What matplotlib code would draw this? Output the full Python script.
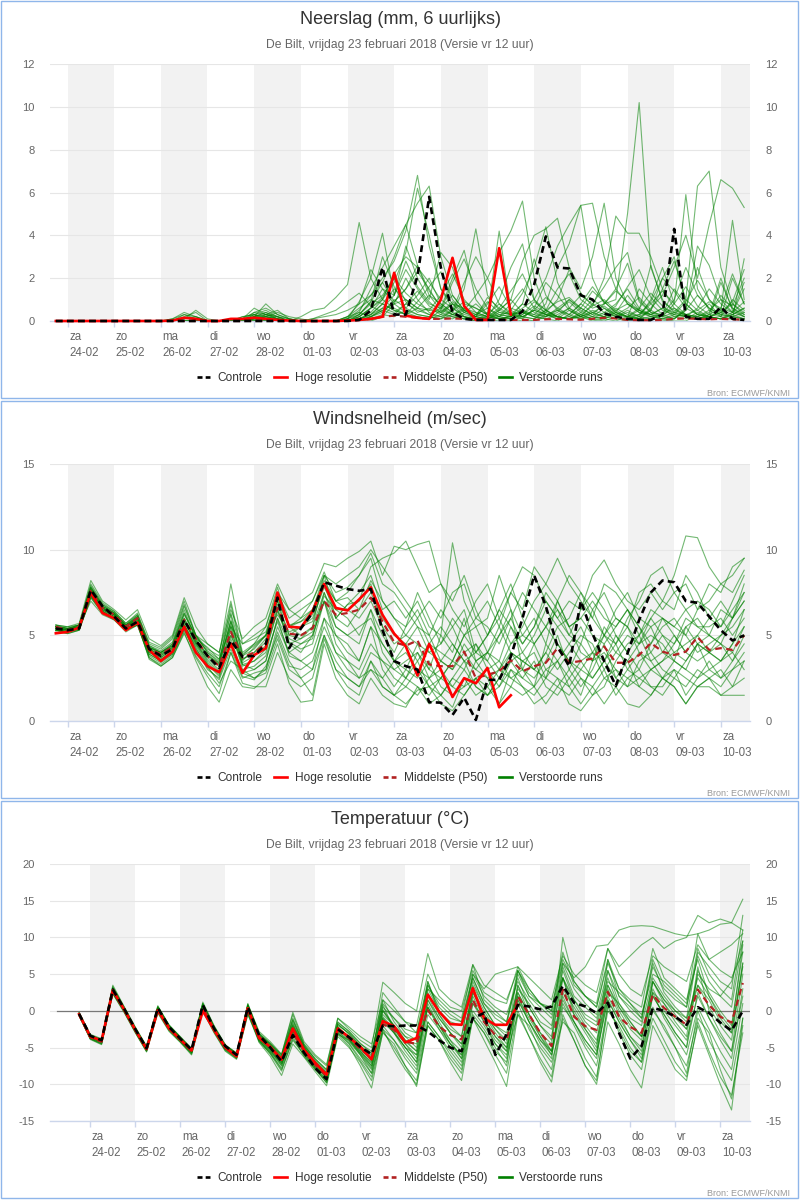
import matplotlib.pyplot as plt
import matplotlib.transforms as mtransforms
import numpy as np
from matplotlib.lines import Line2D
from matplotlib.patches import Rectangle

plt.rcParams["font.family"] = ["Liberation Sans", "DejaVu Sans"]
plt.rcParams["axes.unicode_minus"] = False

# 6-uurlijkse stappen vanaf vr 23-02 18 UTC, tijd in dagen t.o.v. za 24-02 00 UTC
stappen = np.arange(60)
tijd = (stappen * 6 - 6) / 24

dagen = ["za", "zo", "ma", "di", "wo", "do", "vr", "za", "zo", "ma", "di", "wo", "do", "vr", "za"]
datums = ["24-02", "25-02", "26-02", "27-02", "28-02", "01-03", "02-03", "03-03",
          "04-03", "05-03", "06-03", "07-03", "08-03", "09-03", "10-03"]

# ---------------- neerslag (mm per 6 uur) ----------------
neerslag_controle = [0, 0, 0, 0, 0, 0, 0, 0, 0, 0, 0, 0, 0, 0, 0, 0, 0, 0, 0, 0, 0, 0, 0, 0,
                     0, 0, 0.05, 0.5, 2.5, 0.3, 0.3, 2.1, 5.8, 2.5, 0.4, 0.1, 0.05, 0.05, 0.05, 0.05,
                     0.45, 1.7, 3.95, 2.5, 2.45, 1.2, 1.0, 0.35, 0.2, 0.1, 0.05, 0.05,
                     0.3, 4.3, 0.2, 0.1, 0.1, 0.65, 0.1, 0.05]
neerslag_hres = [0, 0, 0, 0, 0, 0, 0, 0, 0, 0, 0.02, 0.15, 0.1, 0, 0, 0.1, 0.1, 0.15, 0.1, 0.05,
                 0.02, 0, 0, 0, 0, 0.02, 0.05, 0.1, 0.2, 2.25, 0.25, 0.15, 0.1, 1.0, 2.95, 0.7,
                 0.05, 0.05, 3.4, 0.3]
neerslag_p50 = [0, 0, 0, 0, 0, 0, 0, 0, 0, 0, 0, 0, 0, 0, 0, 0, 0, 0.02, 0.02, 0, 0, 0, 0, 0,
                0, 0.02, 0.05, 0.1, 0.2, 0.25, 0.2, 0.15, 0.1, 0.1, 0.12, 0.1, 0.08, 0.05, 0.05, 0.05,
                0.05, 0.05, 0.08, 0.1, 0.08, 0.06, 0.1, 0.15, 0.12, 0.05, 0.04, 0.04,
                0.05, 0.1, 0.12, 0.1, 0.08, 0.1, 0.08, 0.06]
neerslag_runs = [
    [0, 0, 0, 0, 0, 0, 0, 0, 0, 0, 0, 0.1, 0.2, 0, 0, 0, 0.2, 0.3, 0.1, 0, 0, 0, 0.1, 0.2,
     0.3, 0.5, 0.8, 1.2, 2.0, 2.8, 4.2, 6.8, 3.5, 1.5, 0.8, 0.4, 0.2, 0.1, 0.3, 0.2,
     0.1, 0, 0.2, 0.6, 1.0, 0.5, 0.2, 0.1, 0, 0.2, 1.5, 0.8, 0.3, 0.1, 0.5, 1.2, 0.6, 0.3, 0.2, 0.4],
    [0, 0, 0, 0, 0, 0, 0, 0, 0, 0, 0.1, 0.3, 0.1, 0, 0, 0, 0.1, 0.2, 0.4, 0.2, 0.1, 0, 0, 0,
     0, 0.2, 0.6, 1.0, 0.8, 0.5, 0.3, 0.6, 1.2, 0.8, 0.4, 0.2, 0.1, 0.3, 0.8, 0.4,
     0.2, 0.1, 0.5, 1.5, 2.2, 1.0, 0.6, 0.8, 1.0, 5.0, 10.2, 2.5, 1.0, 0.4, 0.2, 0.1, 0.3, 0.6, 0.4, 0.2],
    [0, 0, 0, 0, 0, 0, 0, 0, 0, 0, 0, 0, 0, 0, 0, 0, 0, 0.1, 0, 0, 0, 0.2, 0.5, 0.6,
     1.1, 1.7, 4.6, 2.0, 1.0, 0.6, 0.3, 0.2, 0.1, 0.5, 1.8, 2.9, 1.5, 0.6, 0.2, 0.1,
     0, 0, 0.3, 0.1, 0.5, 0.2, 0, 0.1, 0.4, 1.2, 0.5, 0.2, 0.1, 0, 0, 0.3, 0.8, 0.2, 0.1, 0],
    [0, 0, 0, 0, 0, 0, 0, 0, 0, 0, 0, 0.2, 0.4, 0, 0, 0, 0.1, 0.6, 0.3, 0.1, 0, 0, 0, 0,
     0, 0.1, 0.4, 1.5, 2.5, 3.5, 4.5, 5.5, 6.3, 3.0, 1.2, 0.5, 0.3, 0.2, 1.0, 2.5,
     3.6, 1.0, 0.3, 0.2, 0.1, 0.4, 1.0, 0.6, 0.3, 0.2, 0.1, 0.5, 2.0, 3.0, 0.8, 0.3, 0.2, 0.1, 0.4, 1.5],
    [0, 0, 0, 0, 0, 0, 0, 0, 0, 0, 0, 0, 0, 0, 0, 0, 0, 0.2, 0.8, 0.3, 0.1, 0, 0, 0,
     0, 0, 0.2, 0.6, 1.5, 0.8, 2.0, 1.0, 0.4, 0.2, 0.5, 1.8, 3.0, 2.0, 3.2, 4.2,
     5.6, 2.0, 0.5, 0.2, 0.1, 0.3, 0.1, 0, 0.2, 0.5, 0.2, 0.1, 0, 0.1, 0.6, 2.5, 1.0, 0.4, 0.2, 0.1],
    [0, 0, 0, 0, 0, 0, 0, 0, 0, 0, 0, 0, 0, 0, 0, 0, 0, 0.1, 0.2, 0, 0, 0, 0, 0,
     0, 0, 0.1, 0.3, 0.8, 1.5, 1.0, 0.6, 0.3, 0.2, 0.1, 0.4, 0.8, 0.3, 0.1, 0.2,
     0.6, 1.0, 2.0, 3.5, 4.5, 5.4, 5.5, 3.0, 1.5, 0.8, 0.5, 0.3, 0.2, 0.4, 1.0, 0.5, 0.2, 0.1, 0.3, 0.6],
    [0, 0, 0, 0, 0, 0, 0, 0, 0, 0, 0, 0, 0, 0, 0, 0, 0, 0, 0.2, 0.1, 0, 0, 0, 0,
     0, 0, 0, 0.2, 0.4, 0.9, 1.5, 2.3, 1.5, 0.6, 0.3, 0.2, 0.1, 0.2, 0.1, 0,
     0.2, 0.5, 0.3, 0.2, 0.1, 0.3, 0.7, 1.0, 0.5, 0.2, 0.1, 0.6, 1.2, 2.5, 4.0, 2.0, 4.5, 6.6, 6.2, 5.3],
    [0, 0, 0, 0, 0, 0, 0, 0, 0, 0, 0, 0, 0, 0, 0, 0, 0, 0.3, 0.5, 0.2, 0, 0, 0, 0,
     0, 0, 0.3, 0.8, 1.2, 2.0, 0.9, 0.4, 0.6, 0.3, 0.2, 0.1, 0, 0.2, 0.5, 1.0,
     0.4, 0.2, 0.1, 0, 0.3, 0.8, 0.4, 0.2, 0.1, 0, 0.2, 0.5, 1.5, 2.8, 1.0, 6.3, 7.0, 2.5, 0.8, 0.4],
    [0, 0, 0, 0, 0, 0, 0, 0, 0, 0, 0, 0, 0, 0, 0, 0, 0, 0, 0.1, 0, 0, 0, 0, 0,
     0, 0, 0.1, 0.2, 0.6, 0.4, 0.8, 0.5, 0.3, 0.6, 1.2, 0.5, 0.2, 0.1, 0, 0.3,
     0.8, 0.4, 0.2, 0.5, 0.3, 0.1, 0.2, 0.6, 0.2, 0.4, 0.2, 1.0, 2.5, 0.8, 5.9, 1.5, 0.5, 0.2, 2.0, 0.8],
    [0, 0, 0, 0, 0, 0, 0, 0, 0, 0, 0, 0, 0, 0, 0, 0, 0.1, 0.4, 0.3, 0.1, 0, 0, 0, 0,
     0, 0.1, 0.3, 0.9, 3.0, 1.6, 0.6, 1.2, 2.0, 0.8, 0.4, 1.5, 4.3, 1.2, 0.5, 0.3,
     0.2, 0.1, 0.4, 1.0, 2.4, 1.3, 0.7, 2.0, 4.9, 4.1, 4.1, 3.0, 1.5, 0.6, 0.3, 0.2, 0.1, 1.8, 0.6, 0.2],
    [0, 0, 0, 0, 0, 0, 0, 0, 0, 0, 0, 0, 0, 0, 0, 0, 0, 0.1, 0.2, 0.1, 0, 0, 0, 0,
     0, 0, 0, 0.1, 0.3, 0.2, 0.5, 0.3, 0.2, 0.1, 0.3, 0.6, 0.4, 0.2, 0.1, 0.1,
     0.3, 0.7, 0.4, 0.2, 0.1, 0.2, 0.4, 0.2, 0.6, 0.3, 0.1, 0.2, 0.3, 0.6, 0.2, 0.1, 0.2, 0.4, 0.8, 0.3],
    [0, 0, 0, 0, 0, 0, 0, 0, 0, 0, 0, 0, 0, 0, 0, 0, 0, 0.2, 0.1, 0, 0, 0, 0, 0,
     0, 0, 0, 0, 0.2, 0.8, 0.4, 0.2, 0.1, 0.3, 0.8, 0.2, 0, 0.1, 0.5, 1.0,
     2.8, 4.0, 4.3, 4.8, 2.5, 1.5, 3.0, 5.5, 2.0, 0.8, 0.4, 0.2, 0.1, 0.3, 0.2, 0.1, 0.3, 2.0, 0.5, 0.2],
    [0, 0, 0, 0, 0, 0, 0, 0, 0, 0, 0, 0.1, 0.5, 0.1, 0, 0, 0, 0.4, 0.6, 0.3, 0.1, 0, 0, 0,
     0, 0.2, 0.8, 2.4, 1.5, 1.2, 3.5, 2.0, 1.0, 3.2, 2.5, 0.8, 0.6, 0.3, 4.2, 0.5,
     0.2, 0.5, 0.3, 0.1, 0.2, 0.6, 1.4, 0.9, 0.4, 0.2, 0.3, 0.8, 1.4, 0.8, 0.3, 0.1, 0.2, 0.1, 0.1, 2.9],
    [0, 0, 0, 0, 0, 0, 0, 0, 0, 0, 0, 0, 0, 0, 0, 0, 0, 0, 0.3, 0.2, 0, 0, 0, 0,
     0, 0, 0.2, 0.6, 1.0, 2.2, 3.0, 2.5, 1.8, 1.0, 0.6, 0.3, 0.2, 0.8, 1.6, 0.6,
     0.4, 0.3, 0.8, 2.5, 3.6, 5.4, 2.0, 0.8, 1.5, 2.7, 0.9, 0.4, 0.3, 1.0, 2.5, 1.2, 0.6, 0.3, 0.2, 0.1],
    [0, 0, 0, 0, 0, 0, 0, 0, 0, 0, 0, 0, 0, 0, 0, 0, 0, 0.1, 0.2, 0.1, 0, 0, 0, 0,
     0, 0.1, 0.9, 2.0, 4.1, 1.2, 2.4, 1.5, 0.8, 0.6, 2.0, 3.3, 1.0, 0.3, 0.1, 0.2,
     0.5, 0.2, 0.1, 0.3, 0.6, 0.2, 0.1, 0.4, 0.8, 1.5, 0.6, 0.3, 0.1, 0.2, 0.1, 0.4, 0.2, 0.1, 0.3, 0.1],
    [0, 0, 0, 0, 0, 0, 0, 0, 0, 0, 0, 0, 0, 0, 0, 0, 0, 0.3, 0.2, 0.4, 0.2, 0.1, 0, 0,
     0, 0, 0.3, 0.9, 1.8, 3.0, 4.5, 2.6, 1.2, 0.5, 0.3, 0.1, 0, 0.1, 0.4, 0.3,
     0.1, 0.6, 1.8, 1.2, 0.5, 0.2, 0.8, 1.6, 2.5, 3.2, 1.0, 0.4, 0.2, 0.1, 0.5, 3.5, 2.6, 1.0, 0.4, 1.8],
    [0, 0, 0, 0, 0, 0, 0, 0, 0, 0, 0, 0, 0, 0, 0, 0, 0, 0, 0, 0, 0, 0, 0, 0,
     0, 0, 0.1, 0.4, 1.0, 1.8, 3.2, 6.2, 4.0, 1.5, 0.6, 0.2, 0.1, 0, 0.2, 0.5,
     1.3, 2.5, 4.4, 1.8, 0.6, 0.3, 0.1, 0.2, 0.4, 0.2, 0.1, 0.1, 0.3, 1.5, 0.8, 0.3, 0.2, 0.5, 4.7, 1.0],
    [0, 0, 0, 0, 0, 0, 0, 0, 0, 0, 0, 0, 0, 0, 0, 0, 0, 0.1, 0.3, 0.5, 0.1, 0, 0, 0,
     0, 0, 0, 0.2, 0.5, 0.8, 1.0, 0.6, 0.5, 0.4, 0.8, 0.6, 0.3, 0.9, 0.4, 0.3,
     0.4, 0.2, 0.5, 0.9, 1.1, 0.6, 0.3, 0.8, 1.4, 0.9, 0.5, 0.3, 0.6, 0.4, 0.3, 0.2, 0.5, 1.0, 0.7, 2.0],
    [0, 0, 0, 0, 0, 0, 0, 0, 0, 0, 0, 0, 0, 0, 0, 0, 0, 0.2, 0.4, 0.1, 0, 0, 0, 0,
     0, 0.1, 0.5, 1.2, 1.8, 0.9, 1.5, 2.6, 1.4, 0.7, 0.3, 0.5, 1.2, 2.0, 0.8, 0.3,
     0.2, 0.5, 1.1, 0.6, 0.3, 0.8, 1.6, 0.9, 0.4, 0.2, 0.6, 1.3, 0.7, 0.3, 0.9, 1.9, 1.0, 0.5, 0.3, 0.6],
    [0, 0, 0, 0, 0, 0, 0, 0, 0, 0, 0, 0.3, 0.2, 0, 0, 0, 0, 0, 0, 0, 0, 0, 0, 0,
     0, 0, 0.2, 0.6, 1.1, 2.0, 1.3, 0.8, 0.5, 1.2, 2.2, 1.0, 0.4, 0.2, 0.6, 1.4,
     2.2, 1.0, 0.5, 0.2, 0.1, 0.2, 0.5, 0.3, 0.7, 1.6, 2.4, 1.1, 0.5, 0.3, 0.2, 0.6, 1.5, 0.8, 0.4, 0.9],
    [0, 0, 0, 0, 0, 0, 0, 0, 0, 0, 0, 0, 0, 0, 0, 0, 0, 0.2, 0.3, 0.2, 0, 0, 0.1, 0.3,
     0.5, 0.9, 1.3, 0.7, 0.4, 1.0, 0.6, 0.3, 0.2, 0.1, 0.5, 0.9, 0.6, 0.3, 0.2, 0.1,
     0.3, 0.9, 0.5, 0.2, 0.6, 1.2, 0.8, 0.4, 0.2, 0.1, 0.3, 0.9, 2.0, 1.4, 0.6, 0.3, 0.2, 0.4, 0.9, 2.4],
    [0, 0, 0, 0, 0, 0, 0, 0, 0, 0, 0, 0, 0, 0, 0, 0, 0, 0, 0, 0, 0, 0, 0, 0,
     0, 0, 0.1, 0.3, 0.6, 1.2, 2.8, 1.6, 0.9, 0.4, 0.2, 0.1, 0.3, 0.6, 0.3, 0.2,
     0.8, 2.9, 1.2, 0.5, 0.2, 0.1, 0.4, 0.7, 0.3, 0.6, 1.1, 0.5, 0.2, 0.8, 1.6, 0.7, 0.3, 0.2, 1.0, 0.5],
    [0, 0, 0, 0, 0, 0, 0, 0, 0, 0, 0, 0, 0, 0, 0, 0, 0, 0, 0, 0, 0, 0, 0, 0,
     0, 0.2, 0.4, 0.2, 0.5, 0.3, 0.8, 1.4, 0.7, 0.4, 0.9, 0.5, 0.2, 1.1, 0.6, 0.3,
     0.5, 0.3, 0.2, 0.4, 1.0, 0.6, 0.3, 0.2, 0.5, 0.8, 0.4, 0.3, 0.6, 0.2, 0.3, 0.5, 0.9, 0.6, 2.2, 0.8],
    [0, 0, 0, 0, 0, 0, 0, 0, 0, 0, 0.1, 0.4, 0.2, 0, 0, 0, 0.2, 0.3, 0, 0, 0, 0, 0, 0,
     0, 0, 0.1, 0.3, 0.8, 0.5, 0.3, 0.9, 1.6, 2.3, 1.0, 0.4, 0.2, 0.4, 0.2, 0.8,
     1.5, 0.6, 0.3, 0.5, 0.9, 0.4, 0.2, 0.1, 0.3, 0.2, 0.5, 2.6, 0.9, 0.5, 0.3, 0.2, 0.4, 1.2, 0.6, 0.3],
]

# ---------------- windsnelheid (m/s) ----------------
wind_controle = [5.4, 5.3, 5.4, 7.65, 6.7, 6.1, 5.4, 5.8, 4.2, 3.8, 4.2, 5.9, 4.7, 3.8, 3.1, 4.7,
                 3.75, 3.8, 4.5, 7.2, 4.25, 5.4, 6.3, 8.1, 7.9, 7.7, 7.6, 7.7, 5.3, 3.5, 3.2, 3.0,
                 1.1, 1.07, 0.35, 1.36, 0.06, 2.4, 2.4, 3.76, 6.0, 8.5, 6.7, 4.35, 3.2, 7.0, 5.1, 3.5,
                 2.05, 3.95, 5.9, 7.5, 8.2, 8.1, 7.0, 6.9, 6.1, 5.3, 4.7, 5.0]
wind_hres = [5.12, 5.2, 5.45, 7.5, 6.3, 6.0, 5.3, 5.75, 4.15, 3.5, 4.05, 5.5, 4.0, 3.2, 2.85, 4.5,
             2.8, 3.85, 4.25, 7.5, 5.5, 5.45, 6.4, 8.0, 6.6, 6.45, 7.1, 7.8, 6.2, 5.1, 4.35, 2.65,
             4.5, 3.0, 1.4, 2.5, 2.2, 3.1, 0.8, 1.5]
wind_p50 = [5.5, 5.3, 5.5, 7.6, 6.6, 6.2, 5.5, 6.0, 4.2, 3.9, 4.3, 5.9, 4.8, 3.8, 3.2, 5.2,
            3.7, 4.0, 4.5, 6.6, 5.1, 5.0, 5.4, 7.0, 6.2, 6.3, 6.5, 7.2, 5.8, 4.6, 4.4, 4.7,
            3.3, 3.2, 3.2, 4.05, 2.5, 2.7, 2.9, 3.55, 2.9, 3.2, 3.4, 4.25, 3.4, 3.5, 3.65, 4.35,
            3.4, 3.4, 3.85, 4.55, 4.05, 3.85, 4.05, 4.9, 4.15, 4.25, 4.15, 5.0]
wind_runs = [
    [5.3, 5.2, 5.4, 7.4, 6.5, 6.1, 5.5, 5.9, 4.1, 3.7, 4.2, 6.0, 4.6, 3.5, 2.9, 5.0,
     3.6, 4.0, 4.8, 7.0, 5.5, 5.8, 6.5, 8.5, 7.5, 7.8, 8.5, 9.5, 7.0, 6.0, 5.5, 7.5,
     6.0, 4.5, 5.5, 6.5, 4.0, 3.5, 5.0, 6.0, 4.5, 5.5, 7.0, 6.0, 5.0, 4.5, 6.5, 7.5,
     6.0, 5.5, 7.5, 8.0, 7.0, 6.5, 8.5, 7.5, 6.0, 5.5, 7.0, 8.5],
    [5.5, 5.4, 5.5, 7.0, 6.2, 5.9, 5.2, 5.6, 3.8, 3.4, 3.9, 5.4, 3.8, 2.8, 2.0, 4.0,
     2.5, 2.8, 3.0, 5.2, 3.5, 2.5, 1.5, 4.8, 3.0, 2.0, 1.5, 3.5, 2.0, 1.5, 2.5, 2.0,
     1.0, 1.5, 0.8, 2.5, 1.5, 2.0, 1.0, 3.0, 2.0, 1.5, 2.5, 3.5, 2.0, 1.0, 2.0, 3.0,
     1.5, 2.5, 3.0, 2.0, 1.5, 2.5, 2.0, 3.0, 2.5, 1.5, 2.0, 3.5],
    [5.6, 5.5, 5.7, 8.2, 7.0, 6.5, 5.9, 6.5, 4.8, 4.4, 5.0, 7.2, 5.5, 4.5, 4.0, 6.5,
     4.8, 5.5, 6.0, 8.0, 6.5, 7.0, 7.5, 9.2, 9.0, 9.5, 9.9, 10.5, 8.5, 10.2, 10.0, 10.3,
     10.5, 8.0, 7.0, 8.5, 6.5, 5.0, 6.0, 4.5, 5.5, 7.0, 8.0, 9.5, 8.0, 7.0, 6.0, 8.0,
     7.5, 6.5, 5.0, 6.0, 7.0, 8.5, 10.8, 10.7, 9.0, 8.0, 8.5, 9.5],
    [5.4, 5.3, 5.5, 7.6, 6.6, 6.2, 5.5, 6.0, 4.3, 4.0, 4.4, 6.2, 5.0, 4.0, 3.5, 6.2,
     3.2, 3.5, 4.0, 6.5, 4.5, 4.8, 5.5, 7.5, 6.0, 6.8, 7.0, 8.0, 5.5, 3.5, 2.5, 4.0,
     3.0, 5.0, 10.4, 7.0, 5.5, 4.0, 3.0, 4.5, 5.0, 6.0, 4.5, 7.0, 5.5, 4.0, 3.5, 5.0,
     6.0, 5.5, 4.5, 5.5, 4.0, 3.5, 5.5, 6.0, 5.0, 4.5, 6.0, 7.5],
    [5.3, 5.1, 5.3, 7.3, 6.4, 6.0, 5.4, 5.7, 3.6, 3.2, 3.7, 5.2, 3.5, 2.0, 1.1, 3.0,
     2.0, 1.9, 2.5, 4.5, 2.2, 1.1, 1.2, 4.5, 2.5, 1.5, 1.0, 2.5, 1.5, 1.0, 0.8, 2.0,
     1.5, 2.5, 2.0, 1.5, 2.5, 3.0, 2.0, 3.0, 2.5, 3.5, 2.0, 1.5, 2.5, 3.5, 4.0, 2.5,
     3.0, 2.0, 3.5, 4.0, 3.0, 2.5, 3.5, 4.5, 3.0, 3.5, 4.0, 3.0],
    [5.5, 5.4, 5.6, 7.9, 6.8, 6.3, 5.6, 6.2, 4.4, 4.1, 4.6, 6.7, 5.0, 4.2, 3.8, 8.0,
     4.5, 5.0, 5.5, 7.5, 6.5, 6.0, 7.0, 8.7, 7.0, 6.5, 7.0, 9.0, 9.5, 9.8, 10.5, 9.0,
     7.5, 8.0, 6.5, 5.5, 7.0, 8.0, 6.0, 7.5, 9.0, 8.5, 7.0, 6.0, 7.0, 6.5, 8.5, 9.4,
     8.0, 7.0, 6.5, 7.5, 6.5, 7.5, 8.0, 6.5, 7.0, 8.0, 7.5, 8.8],
    [5.4, 5.2, 5.4, 7.5, 6.5, 6.1, 5.4, 5.8, 4.0, 3.6, 4.1, 5.6, 4.3, 3.0, 2.5, 4.5,
     2.8, 3.0, 3.5, 6.0, 3.8, 3.5, 4.0, 6.0, 5.0, 4.5, 3.5, 5.5, 3.0, 2.0, 3.0, 2.5,
     3.5, 2.0, 1.5, 2.0, 3.5, 4.0, 5.0, 6.5, 3.0, 2.5, 3.5, 5.0, 3.0, 2.0, 3.0, 4.5,
     2.5, 3.5, 2.0, 1.5, 2.5, 3.0, 1.5, 2.5, 3.5, 2.5, 3.0, 4.0],
    [5.6, 5.4, 5.6, 7.8, 6.7, 6.3, 5.6, 6.1, 4.4, 4.0, 4.5, 6.5, 4.8, 4.3, 3.6, 5.5,
     4.5, 4.8, 5.2, 7.2, 5.5, 6.0, 6.5, 8.2, 7.0, 7.5, 8.5, 9.8, 8.0, 7.5, 6.5, 5.5,
     5.0, 6.5, 5.5, 4.0, 4.5, 3.0, 3.5, 5.5, 4.0, 5.0, 6.5, 5.5, 6.0, 7.5, 6.5, 5.0,
     4.5, 6.0, 7.0, 8.5, 9.0, 7.5, 6.5, 5.5, 5.0, 6.5, 6.0, 8.0],
    [5.2, 5.1, 5.3, 7.2, 6.3, 5.9, 5.3, 5.6, 3.7, 3.3, 3.8, 5.3, 4.0, 3.2, 2.2, 3.5,
     3.0, 2.5, 3.0, 5.5, 4.0, 4.5, 5.0, 7.0, 4.5, 3.5, 3.0, 4.5, 3.5, 3.0, 3.5, 4.0,
     2.5, 3.0, 2.0, 3.0, 2.0, 1.5, 2.5, 3.5, 4.0, 3.0, 2.5, 2.0, 3.0, 4.5, 3.5, 4.0,
     3.0, 2.5, 2.0, 3.0, 3.5, 4.0, 4.5, 5.0, 4.0, 3.5, 4.5, 6.5],
    [5.5, 5.3, 5.5, 7.7, 6.6, 6.2, 5.5, 6.1, 4.2, 3.9, 4.3, 5.8, 4.7, 3.8, 3.3, 5.8,
     3.5, 4.3, 5.0, 6.2, 5.2, 5.5, 6.0, 7.8, 6.5, 6.5, 6.0, 7.0, 5.5, 4.5, 5.0, 6.0,
     4.5, 4.0, 3.5, 5.0, 5.5, 6.0, 8.5, 6.5, 5.0, 4.5, 3.0, 3.5, 4.5, 5.5, 4.0, 3.5,
     5.0, 4.0, 3.0, 4.5, 5.5, 6.0, 5.0, 4.0, 4.5, 5.0, 5.5, 6.5],
    [5.3, 5.2, 5.4, 7.4, 6.4, 6.0, 5.3, 5.7, 3.9, 3.5, 4.0, 5.5, 4.4, 3.3, 2.7, 5.5,
     3.0, 3.2, 3.8, 5.8, 4.0, 3.5, 3.0, 5.0, 3.5, 2.5, 2.0, 3.0, 2.5, 3.5, 4.5, 5.5,
     4.0, 3.5, 3.0, 4.0, 3.0, 2.5, 1.0, 2.0, 3.5, 4.0, 2.5, 4.5, 3.5, 2.5, 1.5, 2.0,
     3.5, 4.5, 5.0, 3.5, 2.5, 2.0, 1.0, 2.0, 2.5, 3.0, 2.0, 2.5],
    [5.6, 5.5, 5.6, 7.8, 6.8, 6.4, 5.7, 6.3, 4.5, 4.2, 4.8, 6.8, 5.0, 4.0, 3.4, 6.8,
     3.8, 4.5, 5.5, 7.8, 5.5, 5.0, 5.5, 8.5, 6.0, 6.8, 7.5, 8.5, 6.5, 7.0, 6.0, 7.0,
     5.5, 5.0, 4.0, 6.0, 3.5, 4.0, 5.5, 7.5, 6.5, 9.0, 8.0, 7.0, 5.5, 6.0, 7.0, 6.0,
     5.5, 6.5, 5.5, 4.5, 6.0, 5.5, 6.5, 7.0, 6.5, 5.5, 6.5, 7.5],
    [5.4, 5.3, 5.5, 7.6, 6.6, 6.2, 5.5, 5.9, 4.2, 3.8, 4.3, 5.9, 4.5, 3.6, 3.0, 5.3,
     3.3, 3.5, 4.2, 6.4, 4.8, 4.5, 4.8, 7.5, 5.5, 5.0, 4.5, 6.5, 4.0, 3.0, 2.5, 3.5,
     2.0, 2.5, 3.5, 3.0, 4.5, 3.5, 2.5, 4.0, 3.0, 2.0, 4.5, 3.5, 2.5, 1.5, 3.5, 5.5,
     4.5, 3.0, 4.0, 3.5, 4.0, 5.0, 4.0, 3.5, 4.0, 4.5, 3.5, 5.0],
    [5.5, 5.4, 5.6, 8.0, 6.9, 6.4, 5.7, 6.2, 4.6, 4.3, 4.9, 7.0, 5.0, 4.5, 4.0, 7.0,
     4.0, 4.5, 5.0, 7.5, 6.0, 6.5, 7.0, 8.5, 8.0, 8.5, 9.0, 10.0, 9.0, 8.0, 7.0, 6.0,
     7.0, 6.0, 7.5, 8.0, 6.0, 5.5, 4.5, 6.0, 7.5, 6.5, 5.5, 7.0, 8.5, 7.5, 6.0, 5.0,
     6.5, 7.5, 6.0, 5.5, 6.0, 5.5, 5.0, 6.5, 8.0, 7.5, 9.0, 9.5],
    [5.3, 5.2, 5.3, 7.2, 6.3, 6.0, 5.3, 5.6, 3.7, 3.2, 3.7, 5.1, 3.7, 2.6, 1.6, 4.0,
     2.2, 2.0, 2.0, 4.0, 2.5, 2.0, 2.5, 5.0, 3.0, 2.5, 2.0, 3.5, 2.5, 1.5, 2.0, 1.5,
     2.5, 1.5, 2.5, 3.5, 2.0, 1.5, 2.5, 2.0, 1.5, 2.0, 1.0, 2.0, 1.5, 2.5, 2.0, 1.0,
     2.0, 3.0, 2.5, 2.0, 2.0, 3.0, 2.5, 2.0, 2.0, 1.5, 1.5, 1.5],
    [5.4, 5.3, 5.5, 7.7, 6.7, 6.3, 5.6, 6.0, 4.3, 4.0, 4.4, 6.3, 4.8, 3.8, 3.4, 5.8,
     3.8, 4.2, 5.0, 7.0, 5.0, 5.5, 5.8, 8.0, 6.0, 5.5, 6.5, 7.5, 6.0, 5.0, 4.5, 3.5,
     4.5, 5.5, 4.5, 3.5, 4.0, 5.0, 6.5, 5.5, 4.5, 5.5, 7.5, 6.5, 5.5, 6.0, 5.0, 4.5,
     5.5, 6.5, 5.5, 4.0, 5.0, 4.5, 6.0, 5.5, 5.5, 6.0, 5.0, 6.0],
    [5.5, 5.3, 5.5, 7.5, 6.5, 6.1, 5.4, 5.8, 4.0, 3.7, 4.2, 5.6, 4.5, 3.4, 2.8, 5.0,
     3.3, 3.0, 3.5, 6.0, 4.5, 4.0, 5.0, 7.0, 5.0, 4.0, 3.5, 5.5, 4.5, 3.5, 3.0, 4.5,
     3.0, 2.5, 3.5, 5.0, 6.0, 7.0, 5.5, 4.0, 3.5, 3.0, 4.0, 3.0, 4.0, 5.0, 4.5, 3.0,
     4.0, 5.0, 4.5, 5.0, 4.5, 3.5, 3.0, 4.5, 4.0, 3.5, 4.5, 5.5],
    [5.4, 5.2, 5.4, 7.3, 6.4, 6.0, 5.4, 5.8, 4.1, 3.6, 4.0, 5.7, 4.2, 3.3, 2.6, 4.8,
     2.8, 2.5, 2.8, 4.8, 3.0, 2.5, 3.0, 6.0, 4.0, 3.0, 2.5, 3.0, 2.0, 1.5, 1.0, 1.8,
     2.0, 1.0, 0.6, 1.5, 2.5, 2.0, 3.0, 2.5, 2.0, 1.0, 1.5, 2.5, 1.0, 0.6, 1.5, 2.5,
     2.0, 1.0, 0.8, 1.5, 2.5, 2.0, 1.0, 2.0, 2.5, 2.0, 3.0, 3.5],
    [5.4, 5.3, 5.5, 7.6, 6.6, 6.2, 5.5, 6.0, 4.2, 3.8, 4.3, 5.8, 4.6, 3.7, 3.2, 5.6,
     3.4, 3.8, 4.4, 6.6, 4.6, 4.2, 4.5, 7.0, 5.5, 5.0, 5.5, 6.0, 4.5, 3.5, 4.0, 3.0,
     2.5, 3.5, 4.5, 3.5, 3.0, 4.0, 3.5, 2.5, 3.0, 4.5, 5.5, 4.5, 3.5, 3.0, 4.0, 5.0,
     4.0, 3.5, 4.5, 6.0, 5.0, 4.0, 3.5, 4.5, 5.0, 4.5, 4.0, 5.5],
    [5.5, 5.4, 5.5, 7.7, 6.6, 6.2, 5.5, 6.0, 4.3, 3.9, 4.4, 6.0, 4.7, 3.9, 3.3, 5.9,
     3.6, 4.0, 4.6, 6.8, 5.0, 4.8, 5.2, 7.3, 6.5, 6.0, 5.0, 6.5, 5.0, 4.0, 5.5, 6.5,
     5.0, 3.5, 3.0, 4.5, 3.5, 2.5, 3.0, 4.0, 3.5, 3.0, 4.0, 5.5, 4.5, 3.5, 2.5, 3.5,
     4.5, 5.5, 4.0, 3.0, 3.5, 4.5, 5.5, 4.5, 4.0, 5.0, 6.0, 7.0],
    [5.3, 5.2, 5.4, 7.3, 6.4, 6.0, 5.4, 5.7, 3.9, 3.5, 3.9, 5.4, 4.1, 3.1, 2.4, 4.2,
     2.6, 2.4, 3.2, 5.0, 3.2, 3.0, 3.5, 5.5, 4.0, 3.5, 2.5, 4.0, 3.5, 2.5, 2.0, 3.0,
     2.0, 1.5, 2.5, 2.0, 2.5, 1.5, 2.0, 3.5, 2.5, 2.0, 3.0, 2.5, 2.0, 3.0, 2.5, 3.5,
     2.5, 2.0, 2.5, 3.0, 2.5, 3.5, 3.0, 2.5, 3.0, 2.5, 3.5, 4.5],
    [5.5, 5.3, 5.6, 7.8, 6.7, 6.3, 5.6, 6.1, 4.3, 4.0, 4.5, 6.3, 4.9, 4.1, 3.6, 6.3,
     3.9, 4.4, 5.0, 7.2, 5.6, 5.8, 6.2, 8.0, 7.0, 7.2, 6.5, 8.2, 7.0, 6.0, 5.0, 4.5,
     4.0, 4.5, 6.0, 5.0, 4.0, 5.0, 6.5, 8.0, 6.0, 4.5, 5.5, 6.5, 5.0, 6.5, 7.5, 6.5,
     5.0, 4.0, 5.0, 6.5, 6.0, 5.0, 4.0, 5.0, 6.0, 7.0, 6.0, 7.0],
]

# ---------------- temperatuur (graden C) ----------------
temp_controle = [-0.4, -3.4, -4.0, 2.9, 0.3, -2.5, -5.1, 0.4, -2.2, -3.8, -5.3, 0.8, -2.4, -4.8, -6.0, 0.5,
                 -3.3, -5.0, -6.9, -3.3, -5.7, -7.8, -9.3, -2.5, -3.6, -4.9, -5.9, -2.0, -2.1, -2.0, -2.0, -2.8,
                 -4.0, -5.0, -5.5, -1.0, -0.3, -6.0, -3.2, 0.8, 0.6, 0.2, 0.6, 3.4, 1.1, 0.6, -0.3, 1.1,
                 -3.0, -6.5, -4.8, 0.4, 0.0, -0.8, -1.9, 0.5, -0.3, -1.6, -2.7, 0.0]
temp_hres = [-0.45, -3.5, -4.05, 2.8, 0.2, -2.6, -5.2, 0.1, -2.4, -3.9, -5.4, 0.0, -2.6, -5.0, -6.2, 0.35,
             -3.7, -4.9, -6.6, -2.4, -5.3, -7.1, -8.7, -2.4, -3.6, -4.9, -6.6, -1.4, -2.1, -4.3, -3.7, 2.2,
             -0.1, -1.8, -1.9, 3.1, -1.0, -1.9, -1.9, 0.8]
temp_p50 = [-0.5, -3.6, -4.2, 2.7, 0.2, -2.6, -5.2, 0.2, -2.3, -3.9, -5.5, 0.5, -2.5, -5.0, -6.1, 0.3,
            -3.5, -5.0, -6.7, -3.0, -5.5, -7.4, -8.9, -2.6, -3.7, -5.2, -6.4, -1.8, -2.6, -4.2, -4.5, 0.1,
            -2.1, -3.3, -3.9, 1.5, -1.5, -3.3, -4.0, 2.0, -0.5, -3.0, -4.8, 2.9, -0.8, -2.1, -2.6, 2.6,
            -0.8, -2.2, -3.0, 2.2, 0.4, -0.8, -1.9, 2.9, 0.8, -0.8, -1.6, 3.8]
temp_runs = [
    [-0.3, -3.3, -3.9, 3.5, 0.6, -2.2, -4.8, 0.7, -2.0, -3.6, -5.2, 1.2, -2.0, -4.6, -5.8, 1.0,
     -3.0, -4.5, -6.0, -1.2, -4.8, -6.5, -8.0, -1.5, -2.8, -4.5, -5.5, 0.5, -1.0, -2.5, -3.0, 3.5,
     0.5, -1.0, -1.5, 4.5, 1.0, -1.0, -2.0, 5.0, 2.0, 1.0, 0.5, 7.0, 4.0, 2.0, 1.0, 8.5,
     5.0, 3.0, 2.0, 7.5, 6.0, 5.0, 4.0, 9.0, 7.0, 5.5, 4.5, 8.0],
    [-0.6, -3.8, -4.5, 2.4, -0.1, -2.9, -5.5, -0.1, -2.6, -4.2, -5.8, 0.2, -2.8, -5.3, -6.4, -0.2,
     -4.2, -5.8, -7.8, -3.5, -6.2, -8.0, -9.6, -3.0, -4.5, -6.8, -9.0, -2.5, -5.5, -8.0, -10.0, -2.0,
     -4.0, -6.5, -8.5, -1.0, -3.0, -6.0, -8.5, 0.0, -3.5, -6.5, -9.0, -0.5, -4.0, -7.5, -9.5, 1.0,
     -3.0, -6.0, -8.0, 0.5, -2.5, -5.0, -8.5, 0.0, -4.0, -7.0, -9.5, -1.0],
    [-0.4, -3.5, -4.1, 2.9, 0.4, -2.4, -5.0, 0.4, -2.1, -3.7, -5.3, 0.8, -2.3, -4.8, -5.9, 0.6,
     -3.3, -4.6, -6.3, -1.8, -4.9, -7.0, -8.5, -2.0, -3.0, -4.8, -6.0, -0.5, -2.0, -4.0, -4.5, 2.5,
     -0.5, -2.5, -3.5, 4.0, 0.5, -2.0, -3.0, 3.0, 1.0, -1.5, -2.5, 5.5, 1.5, -0.5, -1.5, 4.0,
     2.5, 1.0, -1.0, 6.0, 3.0, 1.5, 0.5, 8.5, 5.0, 3.0, 1.5, 11.0],
    [-0.5, -3.7, -4.3, 2.6, 0.1, -2.7, -5.3, 0.1, -2.4, -4.0, -5.6, 0.3, -2.6, -5.1, -6.2, 0.2,
     -3.8, -5.2, -7.0, -2.6, -5.6, -7.4, -9.2, -2.2, -3.9, -5.6, -7.0, 0.8, -2.5, -4.5, -6.5, 1.0,
     -2.0, -4.5, -6.0, 2.0, -1.0, -3.5, -5.0, 1.5, -1.5, -4.0, -5.5, 3.0, 0.5, -2.0, -4.0, 2.5,
     1.0, -1.0, -2.0, 4.5, 2.0, 0.0, -1.0, 3.5, 1.5, -1.5, -3.0, 6.0],
    [-0.2, -3.2, -3.8, 3.3, 0.5, -2.3, -4.9, 0.6, -1.9, -3.5, -5.1, 1.0, -2.1, -4.7, -5.7, 0.9,
     -2.8, -4.2, -5.9, -0.5, -4.5, -6.2, -7.5, -1.0, -2.2, -3.5, -4.5, 1.5, 0.0, -1.5, -2.0, 5.0,
     2.0, 0.5, 0.0, 5.5, 2.5, 1.5, 1.0, 6.0, 3.0, 1.0, -0.5, 4.5, 1.5, -1.0, -2.0, 3.5,
     0.5, -2.0, -3.5, 2.5, 1.0, -1.0, -2.5, 5.0, 3.0, 2.0, 4.0, 9.5],
    [-0.6, -3.9, -4.6, 2.3, -0.2, -3.0, -5.6, -0.3, -2.8, -4.3, -6.0, 0.0, -3.0, -5.5, -6.6, -0.5,
     -4.0, -5.9, -8.2, -3.8, -6.0, -7.8, -9.8, -3.2, -4.8, -7.5, -10.5, -2.8, -5.0, -7.5, -9.5, -1.5,
     -3.5, -6.0, -8.0, -0.5, -2.5, -5.0, -7.5, 2.0, -1.0, -3.5, -6.0, 1.0, -2.0, -5.0, -7.5, 0.5,
     -2.5, -5.5, -7.0, -1.0, -4.0, -7.0, -9.0, -2.0, -6.0, -10.0, -13.5, -1.0],
    [-0.4, -3.4, -4.0, 3.0, 0.3, -2.5, -5.1, 0.3, -2.2, -3.8, -5.4, 0.6, -2.4, -4.9, -6.0, 0.5,
     -3.5, -5.0, -6.5, -2.0, -5.2, -7.2, -8.8, -2.6, -3.5, -5.0, -6.8, 0.0, -2.2, -4.2, -5.5, 2.0,
     -1.0, -3.0, -4.5, 1.5, -1.5, -4.0, -5.5, 2.5, -0.5, -3.0, -4.5, 6.0, 2.0, 0.5, -1.0, 4.5,
     0.5, -1.5, -3.5, 2.0, -0.5, -3.0, -5.0, 5.5, 2.5, 0.0, -2.0, 8.0],
    [-0.5, -3.6, -4.2, 2.8, 0.2, -2.6, -5.2, 0.2, -2.3, -3.9, -5.5, 0.6, -2.5, -5.0, -6.1, 0.4,
     -3.6, -5.0, -6.8, -2.2, -5.0, -7.0, -8.5, -1.8, -3.2, -5.2, -6.5, 0.2, -2.0, -3.5, -4.0, 3.0,
     0.0, -1.5, -2.0, 4.5, 1.0, -0.5, -1.5, 5.5, 2.5, 1.0, 0.0, 6.5, 4.5, 6.0, 8.8, 9.0,
     11.0, 11.5, 11.6, 11.5, 11.0, 10.5, 10.2, 10.5, 11.0, 11.8, 12.0, 11.0],
    [-0.7, -3.8, -4.4, 2.5, 0.0, -2.8, -5.4, 0.0, -2.5, -4.1, -5.7, 0.2, -2.7, -5.2, -6.3, 0.0,
     -4.0, -5.6, -7.5, -3.0, -5.8, -7.7, -9.5, -2.8, -4.2, -6.0, -8.0, -1.5, -3.0, -5.5, -7.5, 0.5,
     -2.5, -5.0, -7.0, 1.0, -1.5, -4.5, -6.5, 3.5, -0.5, -3.5, -5.5, 1.5, -1.5, -4.5, -6.5, 3.0,
     -0.5, -3.5, -5.5, 4.0, 1.0, -1.5, -3.5, 6.0, 0.0, -3.0, -5.5, 5.0],
    [-0.3, -3.4, -4.0, 3.1, 0.4, -2.4, -5.0, 0.5, -2.0, -3.6, -5.2, 0.9, -2.2, -4.7, -5.8, 0.8,
     -3.1, -4.4, -6.0, -0.2, -4.2, -6.0, -7.3, -1.0, -2.5, -4.0, -5.0, 3.9, 2.5, 1.0, 0.0, 7.8,
     3.0, 1.5, 0.5, 6.3, 3.5, 2.5, 1.5, 5.5, 3.0, 1.0, 0.0, 8.0, 3.5, 2.0, 0.5, 7.0,
     2.0, 0.0, -1.5, 6.5, 2.5, 0.5, -1.0, 8.0, 6.0, 4.0, 3.0, 13.0],
    [-0.5, -3.5, -4.2, 2.7, 0.1, -2.7, -5.3, 0.3, -2.4, -4.0, -5.6, 0.4, -2.6, -5.1, -6.2, 0.1,
     -3.9, -5.5, -7.2, -2.8, -5.5, -7.6, -9.0, -2.5, -3.8, -5.5, -7.5, -1.0, -3.0, -5.0, -7.0, 1.5,
     -1.5, -4.0, -6.5, 2.5, -0.5, -3.0, -5.0, 2.0, -1.5, -4.5, -6.5, 4.5, -0.5, -2.5, -4.5, 2.0,
     -1.0, -3.5, -5.0, 3.0, 0.0, -2.0, -4.0, 2.0, -1.0, -4.0, -6.5, 3.0],
    [-0.6, -3.7, -4.3, 2.6, 0.0, -2.8, -5.4, 0.0, -2.5, -4.1, -5.7, 0.1, -2.7, -5.2, -6.4, -0.1,
     -4.1, -5.7, -8.0, -4.0, -6.0, -8.0, -9.8, -3.2, -4.0, -6.0, -8.5, -2.5, -4.0, -6.5, -8.5, -1.5,
     -3.5, -5.5, -7.5, 0.0, -2.0, -4.5, -6.0, -0.5, -2.0, -5.5, -8.0, 0.5, -1.5, -4.0, -6.0, 1.5,
     -1.5, -4.0, -6.5, 0.0, -2.0, -5.0, -7.5, -1.0, -3.0, -8.0, -12.0, -2.0],
    [-0.4, -3.5, -4.1, 2.9, 0.3, -2.5, -5.1, 0.3, -2.2, -3.8, -5.4, 0.7, -2.4, -4.9, -6.0, 0.7,
     -3.4, -4.8, -6.6, -1.6, -5.0, -6.9, -8.4, -2.2, -3.6, -5.4, -7.2, 0.0, -2.0, -4.0, -5.5, 3.0,
     1.5, 0.0, -1.0, 6.3, 1.5, 0.0, -1.5, 4.5, 0.5, -2.0, -4.0, 10.0, 4.0, 2.0, 0.5, 6.5,
     3.0, 1.0, -0.5, 5.0, 4.0, 2.5, 1.0, 10.5, 7.0, 8.0, 9.0, 10.5],
    [-0.5, -3.6, -4.2, 2.8, 0.2, -2.6, -5.2, 0.2, -2.3, -3.9, -5.5, 0.4, -2.5, -5.0, -6.1, 0.3,
     -3.7, -5.3, -7.2, -2.8, -5.4, -7.3, -9.0, -2.2, -3.8, -5.8, -7.5, -1.0, -2.8, -5.0, -6.0, 0.5,
     -2.0, -4.0, -5.5, 3.5, 0.5, -2.0, -3.5, 2.5, -0.5, -3.0, -5.5, 2.0, -1.5, -4.0, -6.0, 5.5,
     1.0, -1.5, -3.5, 4.0, 1.5, -0.5, -2.5, 3.5, 0.5, -2.0, -4.0, 6.5],
    [-0.3, -3.3, -3.9, 3.2, 0.5, -2.3, -4.9, 0.5, -2.0, -3.6, -5.2, 1.0, -2.2, -4.7, -5.9, 0.8,
     -3.2, -4.7, -6.4, -1.3, -4.7, -6.7, -8.2, -1.8, -3.1, -4.7, -6.2, 1.5, -1.5, -3.5, -5.0, 4.0,
     0.0, -2.0, -3.5, 5.0, 3.0, 5.0, 5.5, 6.0, 4.5, 3.0, 1.5, 7.5, 5.0, 3.5, 2.5, 8.5,
     6.0, 7.5, 9.0, 10.0, 8.5, 9.5, 10.0, 13.0, 12.0, 12.5, 12.0, 15.2],
    [-0.6, -3.8, -4.5, 2.4, -0.1, -2.9, -5.5, -0.2, -2.7, -4.2, -5.9, 0.0, -2.9, -5.4, -6.5, -0.4,
     -4.3, -6.2, -8.8, -4.5, -6.3, -8.3, -10.2, -3.5, -5.0, -7.0, -9.5, -3.0, -4.5, -7.5, -10.3, -2.0,
     -4.0, -7.0, -9.5, -1.0, -4.0, -7.0, -10.3, -0.5, -3.5, -7.0, -9.7, -1.0, -4.0, -7.5, -10.0, -1.5,
     -4.5, -8.0, -10.5, -2.0, -5.0, -8.0, -9.5, -1.5, -5.5, -9.0, -11.5, -3.0],
    [-0.4, -3.4, -4.0, 3.0, 0.3, -2.5, -5.1, 0.4, -2.1, -3.7, -5.3, 0.8, -2.3, -4.8, -5.9, 0.6,
     -3.4, -4.9, -6.8, -2.0, -5.1, -7.1, -8.7, -2.4, -3.6, -5.0, -6.5, 2.5, 0.5, -1.5, -3.0, 4.0,
     -0.5, -3.0, -5.0, 3.0, 0.0, -2.5, -4.5, 5.5, 2.0, 0.5, -1.0, 4.5, 0.0, -2.5, -5.0, 7.0,
     3.0, 1.5, 0.5, 8.5, 4.5, 3.0, 1.5, 7.0, 2.0, -0.5, -2.5, 9.0],
    [-0.5, -3.6, -4.2, 2.7, 0.1, -2.7, -5.3, 0.1, -2.4, -4.0, -5.6, 0.3, -2.6, -5.1, -6.2, 0.1,
     -3.8, -5.4, -7.4, -3.2, -5.7, -7.8, -9.4, -3.0, -4.4, -6.5, -8.5, -2.0, -4.0, -6.0, -8.0, -0.5,
     -2.5, -4.5, -6.5, -1.0, -3.0, -5.5, -7.0, 1.0, -2.5, -5.0, -7.0, -1.5, -3.0, -6.5, -9.0, 0.0,
     -2.0, -5.0, -7.0, 2.5, -1.0, -3.5, -6.0, 0.5, -2.5, -5.5, -8.0, 1.0],
    [-0.5, -3.5, -4.1, 2.8, 0.3, -2.5, -5.1, 0.3, -2.2, -3.8, -5.4, 0.6, -2.4, -4.9, -6.0, 0.5,
     -3.5, -5.0, -6.8, -2.4, -5.2, -7.2, -8.8, -2.5, -3.4, -5.2, -6.8, -0.8, -2.5, -4.5, -6.0, 1.5,
     -1.0, -3.0, -4.5, 2.5, -0.5, -2.5, -4.0, 3.5, 0.5, -2.0, -3.5, 4.5, 1.0, -1.5, -3.0, 3.5,
     0.0, -2.5, -4.0, 4.0, 1.5, 0.0, -1.5, 4.5, 2.0, -1.0, -3.0, 6.5],
    [-0.4, -3.5, -4.2, 2.7, 0.2, -2.6, -5.2, 0.2, -2.3, -3.9, -5.5, 0.5, -2.5, -5.0, -6.1, 0.3,
     -3.6, -5.1, -7.0, -2.6, -5.4, -7.4, -9.2, -2.8, -4.0, -5.8, -7.8, -1.2, -3.0, -5.0, -7.0, 0.5,
     -2.0, -4.5, -6.0, 1.0, -1.0, -3.5, -5.5, 1.5, -1.5, -4.0, -6.0, 2.5, -0.5, -3.0, -5.5, 1.5,
     -1.5, -4.0, -6.0, 2.0, -0.5, -3.0, -5.0, 2.5, -1.0, -3.5, -5.5, 2.0],
    [-0.3, -3.4, -4.0, 3.0, 0.4, -2.4, -5.0, 0.4, -2.1, -3.7, -5.3, 0.9, -2.3, -4.8, -5.9, 0.7,
     -3.2, -4.5, -6.2, -1.0, -4.6, -6.6, -8.0, -1.6, -2.8, -4.4, -5.8, 1.0, -1.0, -3.0, -4.0, 3.5,
     1.0, -0.5, -1.5, 5.0, 2.0, 0.5, -0.5, 4.0, 1.5, -0.5, -2.0, 6.5, 3.0, 1.0, -0.5, 5.5,
     2.0, 0.5, -1.0, 7.0, 3.5, 2.0, 0.5, 7.5, 4.0, 2.0, 0.5, 9.5],
]

panelen = [
    dict(titel="Neerslag (mm, 6 uurlijks)", runs=neerslag_runs, controle=neerslag_controle,
         hres=neerslag_hres, p50=neerslag_p50, ylim=(0, 12), yticks=range(0, 13, 2),
         xlim=(-0.375, 14.625), nullijn=False),
    dict(titel="Windsnelheid (m/sec)", runs=wind_runs, controle=wind_controle,
         hres=wind_hres, p50=wind_p50, ylim=(0, 15), yticks=range(0, 16, 5),
         xlim=(-0.375, 14.625), nullijn=False),
    dict(titel="Temperatuur (°C)", runs=temp_runs, controle=temp_controle,
         hres=temp_hres, p50=temp_p50, ylim=(-15, 20), yticks=range(-15, 21, 5),
         xlim=(-0.896, 14.66), nullijn=True),
]

W, H = 800, 1200
fig = plt.figure(figsize=(W / 100, H / 100), dpi=100)


def fy(py):
    return 1 - py / H


controle_stijl = dict(color="black", lw=1.9, dashes=(2.6, 1.6))
hres_stijl = dict(color="#ff0000", lw=1.9)
p50_stijl = dict(color="#b22222", lw=1.6, dashes=(3.0, 2.0))
runs_stijl = dict(color="#008000", lw=0.8, alpha=0.55)

# legendasymbolen: korter streepjespatroon zodat er twee streepjes zichtbaar zijn
handles = [Line2D([], [], color="black", lw=1.9, dashes=(1.9, 1.2)),
           Line2D([], [], **hres_stijl),
           Line2D([], [], color="#b22222", lw=1.9, dashes=(1.9, 1.2)),
           Line2D([], [], color="#008000", lw=1.9)]
labels = ["Controle", "Hoge resolutie", "Middelste (P50)", "Verstoorde runs"]

for k, p in enumerate(panelen):
    top = 400 * k
    ax = fig.add_axes([50 / W, fy(top + 321), 700 / W, 257 / H])
    ax.set_xlim(*p["xlim"])
    ax.set_ylim(*p["ylim"])

    # grijze banden voor om-en-om dagen
    for d in range(0, 15, 2):
        ax.axvspan(d, d + 1, color="#f2f2f2", lw=0, zorder=0)

    ax.set_yticks(list(p["yticks"]))
    ax.grid(axis="y", color="#e6e6e6", lw=0.8, zorder=0.5)
    ax.set_axisbelow(True)
    for s in ["top", "left", "right"]:
        ax.spines[s].set_visible(False)
    ax.spines["bottom"].set_color("#ccd6eb")
    ax.spines["bottom"].set_linewidth(1.0)

    ax.tick_params(axis="y", length=0, pad=11, labelsize=8, labelcolor="#666666",
                   labelleft=True, labelright=True)
    ax.set_xticks(range(15))
    ax.set_xticklabels([f"{d}\n{dt}" for d, dt in zip(dagen, datums)],
                       ha="left", linespacing=1.45)
    ax.tick_params(axis="x", length=4, width=1, color="#ccd6eb", pad=3,
                   labelsize=8.3, labelcolor="#666666")
    verschuif = mtransforms.ScaledTranslation(1.5 / 100, 0, fig.dpi_scale_trans)
    for lab in ax.get_xticklabels():
        lab.set_transform(lab.get_transform() + verschuif)

    if p["nullijn"]:
        ax.axhline(0, xmin=6.7 / 700, xmax=1, color="#777777", lw=0.9, zorder=1.5)

    for run in p["runs"]:
        ax.plot(tijd, run, zorder=2, clip_on=False, **runs_stijl)
    ax.plot(tijd, p["p50"], zorder=3, clip_on=False, **p50_stijl)
    ax.plot(tijd[:len(p["hres"])], p["hres"], zorder=4, clip_on=False, **hres_stijl)
    ax.plot(tijd, p["controle"], zorder=5, clip_on=False, **controle_stijl)

    ax.legend(handles, labels, loc="center", bbox_to_anchor=(0.5, -(378 - 321) / 257),
              ncol=4, frameon=False, fontsize=8.6, handlelength=1.1, handletextpad=0.6,
              columnspacing=1.0, labelcolor="#333333")

    fig.text(0.5, fy(top + 19), p["titel"], ha="center", va="center",
             fontsize=13, color="#333333")
    fig.text(0.5, fy(top + 45), "De Bilt, vrijdag 23 februari 2018 (Versie vr 12 uur)",
             ha="center", va="center", fontsize=8.7, color="#666666")
    fig.text(790 / W, fy(top + 393), "Bron: ECMWF/KNMI", ha="right", va="center",
             fontsize=6.5, color="#999999")

    fig.add_artist(Rectangle((0.8 / W, fy(top + 398)), 797.5 / W, 397.3 / H,
                             transform=fig.transFigure, fill=False,
                             edgecolor="#8fb6ea", lw=1.0))

fig.savefig("out.png", dpi=100)
